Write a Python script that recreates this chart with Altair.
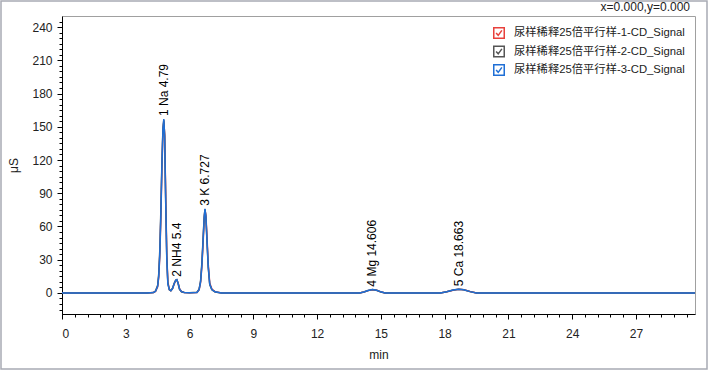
import altair as alt
import pandas as pd

series_names = [
    "尿样稀释25倍平行样-1-CD_Signal",
    "尿样稀释25倍平行样-2-CD_Signal",
    "尿样稀释25倍平行样-3-CD_Signal",
]
series_colors = ["#e8413c", "#555555", "#1f6fd6"]

times = [0, 4.0, 4.3, 4.4, 4.5, 4.55, 4.6, 4.65, 4.7, 4.75, 4.79, 4.83, 4.88,
         4.93, 4.98, 5.05, 5.12, 5.2, 5.28, 5.35, 5.4, 5.46, 5.53, 5.62, 5.75,
         6.0, 6.35, 6.45, 6.52, 6.58, 6.64, 6.69, 6.727, 6.77, 6.82, 6.88,
         6.95, 7.05, 7.2, 7.5, 14.0, 14.2, 14.4, 14.606, 14.8, 15.0, 15.2,
         17.8, 18.1, 18.4, 18.663, 18.9, 19.2, 19.5, 29.78]

signal_1 = [0, 0, 0.3, 1.4, 5.5, 14, 33, 67, 112, 146, 155, 143, 85,
            34, 10, 3, 2, 3.8, 8.2, 11.2, 11.8, 9.2, 3.8, 1.3, 0.4,
            0.2, 0.5, 2.8, 9.5, 24, 46, 67, 75, 70, 51, 26,
            9, 3.5, 1.2, 0, 0, 0.8, 2.1, 2.9, 2.5, 1.0, 0,
            0, 1.0, 2.5, 3.4, 2.9, 1.3, 0, 0]
signal_2 = [0, 0, 0.4, 1.8, 7, 17, 38, 74, 118, 149, 156, 142, 82,
            32, 9, 2.8, 2, 4.2, 8.8, 11.6, 11.9, 8.8, 3.3, 1.1, 0.4,
            0.2, 0.6, 3.4, 11, 27, 50, 69, 75.5, 68, 47, 23,
            7.5, 2.8, 0.9, 0, 0, 0.8, 2.2, 3.0, 2.4, 0.9, 0,
            0, 1.0, 2.6, 3.3, 2.8, 1.2, 0, 0]
signal_3 = [0, 0, 0.3, 1.5, 6, 15, 35, 70, 115, 148, 157, 140, 80,
            30, 8, 3, 2, 4, 8.5, 11.5, 12, 9, 3.5, 1.2, 0.4,
            0.2, 0.5, 3, 10, 25, 48, 68, 76, 69, 48, 24,
            8, 3, 1, 0, 0, 0.8, 2.2, 3, 2.5, 1.0, 0,
            0, 1.0, 2.6, 3.3, 2.8, 1.2, 0, 0]

peak_labels = ["1 Na 4.79", "2 NH4 5.4", "3 K 6.727", "4 Mg 14.606", "5 Ca 18.663"]
peak_times = [4.79, 5.4, 6.727, 14.606, 18.663]
peak_heights = [157, 12, 76, 3, 3.3]

cursor_text = "x=0.000,y=0.000"

x_major = [0, 3, 6, 9, 12, 15, 18, 21, 24, 27]
x_minor = [round(0.6 * i, 1) for i in range(50)]
y_major = [0, 30, 60, 90, 120, 150, 180, 210, 240]
y_minor = list(range(-15, 250, 5))
x_domain = [0, 29.78]
y_domain = [-19, 250]

rows = []
for name, vals in zip(series_names, [signal_1, signal_2, signal_3]):
    for t, v in zip(times, vals):
        rows.append({"t": t, "v": v, "series": name})
df = pd.DataFrame(rows)
labels_df = pd.DataFrame({"label": peak_labels, "t": peak_times, "v": peak_heights})

FONT = "Liberation Sans"
xs = alt.Scale(domain=x_domain, nice=False, zero=False)
ys = alt.Scale(domain=y_domain, nice=False, zero=False)

check_path = "M-1,-1L1,-1L1,1L-1,1Z M-0.55,0L-0.15,0.45L0.55,-0.5"

lines = alt.Chart(df).mark_line(strokeWidth=1.5, clip=True).encode(
    x=alt.X("t:Q", scale=xs,
            axis=alt.Axis(values=x_major, orient="bottom", title="min", grid=False,
                          tickSize=5, tickColor="#000", domainColor="#000",
                          labelFont=FONT, labelFontSize=12, labelColor="#222",
                          labelPadding=9, titleFont=FONT, titleFontSize=12,
                          titleFontWeight="normal", titleColor="#222", titlePadding=10,
                          labelOverlap=False)),
    y=alt.Y("v:Q", scale=ys,
            axis=alt.Axis(values=y_major, orient="left", title="μS", grid=False,
                          tickSize=5, tickColor="#000", domainColor="#000",
                          labelFont=FONT, labelFontSize=12, labelColor="#222",
                          labelPadding=5, titleFont=FONT, titleFontSize=12,
                          titleFontWeight="normal", titleColor="#222", titlePadding=11,
                          labelOverlap=False)),
    color=alt.Color("series:N",
                    scale=alt.Scale(domain=series_names, range=series_colors),
                    sort=series_names,
                    legend=alt.Legend(title=None, orient="none", legendX=431, legendY=11,
                                      symbolType=check_path, symbolSize=110,
                                      symbolStrokeWidth=1.5, symbolFillColor="transparent",
                                      labelFont=FONT + ", Noto Sans CJK SC",
                                      labelFontSize=11.3, labelColor="#222",
                                      labelLimit=400, labelOffset=9, rowPadding=0.5)),
    order=alt.Order("series:N"),
)

texts = alt.Chart(labels_df).mark_text(
    angle=270, align="left", baseline="middle", dx=3, font=FONT, fontSize=12, color="#000"
).encode(
    x=alt.X("t:Q", scale=xs,
            axis=alt.Axis(values=x_minor, orient="bottom", title=None, labels=False,
                          domain=False, grid=False, tickSize=3, tickColor="#000")),
    y=alt.Y("v:Q", scale=ys,
            axis=alt.Axis(values=y_minor, orient="left", title=None, labels=False,
                          domain=False, grid=False, tickSize=3, tickColor="#000")),
    text="label:N",
)

frame = alt.Chart(alt.Data(values=[{}])).mark_rect(
    fillOpacity=0, stroke="#a8aab4", strokeWidth=1.5
).encode(
    x=alt.value(-61), x2=alt.value(645), y=alt.value(-15), y2=alt.value(353)
)

cursor = alt.Chart(alt.Data(values=[{"txt": cursor_text}])).mark_text(
    align="right", baseline="middle", font=FONT, fontSize=12, color="#222"
).encode(
    x=alt.value(628), y=alt.value(-9), text="txt:N"
)

chart = alt.layer(frame, lines, texts, cursor).resolve_axis(
    x="independent", y="independent"
).properties(
    width=633, height=298,
    autosize=alt.AutoSizeParams(type="none"),
    padding={"left": 62, "top": 16, "right": 14, "bottom": 57},
    background="white",
).configure_view(stroke="#a0a0a0", strokeWidth=1)

chart.save("out.html", embed_options={"renderer": "svg", "actions": False})
